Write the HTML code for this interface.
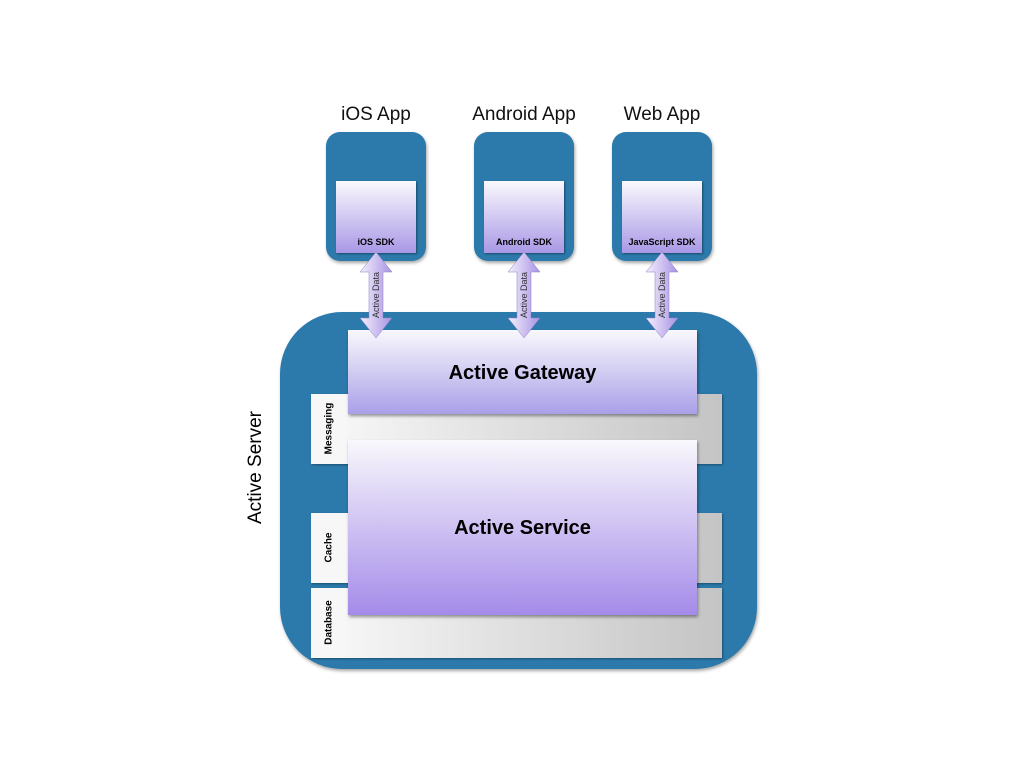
<!DOCTYPE html>
<html><head><style>
body{margin:0;width:1024px;height:768px;background:#fff;position:relative;overflow:hidden;font-family:"Liberation Sans",sans-serif}
.a{position:absolute}
.blue{background:#2b7aab;border-radius:14px;box-shadow:1px 2px 3px rgba(0,0,0,.35)}
.sdk{background:linear-gradient(#faf9fd,#a998e6);box-shadow:1px 1px 2px rgba(0,0,0,.4);font-size:9px;font-weight:bold;text-align:center;box-sizing:border-box;padding-top:56px}
.ttl{font-size:19px;color:#111;text-align:center;width:160px}
.bar{background:linear-gradient(90deg,#fafafa,#c4c4c4);box-shadow:1px 1px 2px rgba(0,0,0,.35)}
.lab{position:absolute;left:0;top:0;width:36px;height:70px;background:#f7f7f7}
.vt{position:absolute;font-size:10px;font-weight:bold;transform:rotate(-90deg);white-space:nowrap;transform-origin:center}
.big{background:linear-gradient(#f9f8fc,#a48be9);box-shadow:1px 2px 3px rgba(0,0,0,.4);font-weight:bold;font-size:20px;text-align:center}
</style></head><body>
<div class="a ttl" style="left:296px;top:104px">iOS App</div>
<div class="a ttl" style="left:444px;top:104px">Android App</div>
<div class="a ttl" style="left:582px;top:104px">Web App</div>
<div class="a blue" style="left:326px;top:132px;width:100px;height:129px"></div>
<div class="a blue" style="left:474px;top:132px;width:100px;height:129px"></div>
<div class="a blue" style="left:612px;top:132px;width:100px;height:129px"></div>
<div class="a sdk" style="left:336px;top:181px;width:80px;height:72px">iOS SDK</div>
<div class="a sdk" style="left:484px;top:181px;width:80px;height:72px">Android SDK</div>
<div class="a sdk" style="left:622px;top:181px;width:80px;height:72px">JavaScript SDK</div>

<div class="a blue" style="left:280px;top:312px;width:477px;height:357px;border-radius:62px"></div>
<div class="a vt" style="left:206px;top:463px;font-size:19px;font-weight:normal;width:100px;text-align:center">Active Server</div>

<div class="a bar" style="left:311px;top:394px;width:411px;height:70px"><div class="lab"></div><div class="vt" style="left:-17px;top:29px;width:70px;text-align:center">Messaging</div></div>
<div class="a bar" style="left:311px;top:513px;width:411px;height:70px"><div class="lab"></div><div class="vt" style="left:-17px;top:29px;width:70px;text-align:center">Cache</div></div>
<div class="a bar" style="left:311px;top:588px;width:411px;height:70px"><div class="lab"></div><div class="vt" style="left:-17px;top:29px;width:70px;text-align:center">Database</div></div>

<div class="a big" style="left:348px;top:330px;width:349px;height:84px;line-height:86px;background:linear-gradient(#f9f8fc,#a9a0e8)">Active Gateway</div>
<div class="a big" style="left:348px;top:440px;width:349px;height:175px;line-height:176px">Active Service</div>

<svg class="a" style="left:0;top:0" width="1024" height="768">
<defs><linearGradient id="g" x1="0" x2="1"><stop offset="0" stop-color="#f4f0fc"/><stop offset="1" stop-color="#a893e4"/></linearGradient></defs>
<g fill="url(#g)" stroke="#8d7bc8" stroke-width=".5">
<path d="M376 252 L392 272 L383 272 L383 318 L392 318 L376 338 L360 318 L369 318 L369 272 L360 272 Z"/>
<path d="M524 252 L540 272 L531 272 L531 318 L540 318 L524 338 L508 318 L517 318 L517 272 L508 272 Z"/>
<path d="M662 252 L678 272 L669 272 L669 318 L678 318 L662 338 L646 318 L655 318 L655 272 L646 272 Z"/>
</g>
<g font-family="Liberation Sans" font-size="9" fill="#333" text-anchor="middle">
<text transform="translate(379 295) rotate(-90)">Active Data</text>
<text transform="translate(527 295) rotate(-90)">Active Data</text>
<text transform="translate(665 295) rotate(-90)">Active Data</text>
</g>
</svg>
</body></html>
